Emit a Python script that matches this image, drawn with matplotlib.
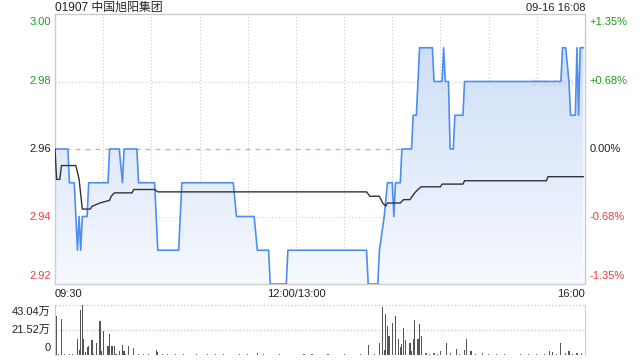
import numpy as np
import matplotlib
matplotlib.use("Agg")
import matplotlib.pyplot as plt
from matplotlib.patches import Polygon
from matplotlib.colors import LinearSegmentedColormap

plt.rcParams['font.family'] = ['Liberation Sans', 'Noto Sans CJK SC', 'DejaVu Sans']

title = "01907 中国旭阳集团"
stamp = "09-16 16:08"
prev_close = 2.96

# price line, (minute since 09:30, price)
price_min = [0, 8, 9, 12, 14, 15, 16, 17, 20, 21, 33, 34, 40, 42, 43, 51, 52, 62, 64, 77,
             79, 111, 113, 124, 126, 133, 134, 144, 145, 194, 195, 201, 202, 205, 207, 210,
             211, 212, 215, 216, 222, 223, 225, 227, 235, 236, 241, 242, 243, 245, 246, 248,
             249, 254, 255, 315, 316, 318, 320, 321, 324, 325, 326, 327, 329]
price_val = [2.96, 2.96, 2.95, 2.95, 2.93, 2.94, 2.93, 2.94, 2.94, 2.95, 2.95, 2.96, 2.96,
             2.95, 2.96, 2.96, 2.95, 2.95, 2.93, 2.93, 2.95, 2.95, 2.94, 2.94, 2.93, 2.93,
             2.92, 2.92, 2.93, 2.93, 2.92, 2.92, 2.93, 2.94, 2.95, 2.95, 2.94, 2.95, 2.95,
             2.96, 2.96, 2.97, 2.97, 2.99, 2.99, 2.98, 2.98, 2.99, 2.98, 2.98, 2.96, 2.96,
             2.97, 2.97, 2.98, 2.98, 2.99, 2.99, 2.98, 2.97, 2.97, 2.99, 2.97, 2.99, 2.99]

# average price line
avg_min = [0, 1, 3, 4, 13, 15, 17, 22, 23, 28, 34, 35, 37, 48, 49, 62, 64, 194, 196, 202,
           204, 206, 207, 215, 217, 221, 224, 226, 228, 240, 241, 254, 255, 306, 307, 329]
avg_val = [2.96, 2.951, 2.951, 2.9551, 2.9551, 2.951, 2.9422, 2.9422, 2.943, 2.944, 2.9448,
           2.946, 2.947, 2.947, 2.948, 2.948, 2.9473, 2.9473, 2.946, 2.946, 2.944, 2.9431,
           2.944, 2.944, 2.945, 2.945, 2.947, 2.948, 2.9488, 2.9488, 2.9496, 2.9496, 2.9506,
           2.9506, 2.9518, 2.9518]

# volume (万 shares)
vol_min = [1, 4, 14, 15, 16, 17, 18, 19, 20, 21, 23, 26, 28, 29, 30, 33, 34, 35, 36, 37,
           40, 42, 43, 46, 49, 63, 64, 126, 195, 202, 204, 205, 206, 207, 208, 210, 212, 214,
           215, 216, 217, 218, 221, 222, 223, 224, 226, 227, 228, 240, 244, 250, 255, 256,
           259, 308, 310, 315, 320]
vol_val = [33.7, 30.8, 13.4, 4.7, 38.7, 43.0, 13.4, 2.3, 6.7, 7.6, 12.5, 10.2, 29.0, 3.8,
           20.6, 8.1, 17.7, 8.1, 8.1, 8.1, 3.2, 9.0, 3.8, 8.1, 6.4, 4.7, 2.9, 2.0, 9.0, 10.2,
           41.6, 4.7, 35.2, 24.7, 16.0, 27.6, 33.4, 14.0, 7.3, 9.6, 23.5, 12.5, 10.2, 3.8,
           14.0, 30.0, 14.0, 26.5, 16.0, 3.8, 10.2, 5.2, 4.7, 13.4, 3.8, 3.2, 2.9, 10.2, 3.8]
small_min = [2, 6, 9, 11, 24, 38, 44, 52, 55, 58, 67, 70, 75, 80, 88, 95, 100, 105, 115,
             120, 130, 140, 155, 160, 170, 180, 190, 199, 231, 233, 236, 238, 246, 252, 262,
             266, 270, 275, 280, 290, 295, 300, 305, 312, 318, 322, 325, 328]
small_val = [0.6, 0.8, 1.0, 0.5, 0.7, 0.6, 0.8, 0.5, 0.6, 0.5, 0.7, 0.5, 0.6, 0.5, 0.6,
             0.5, 0.7, 0.6, 0.5, 0.6, 0.5, 0.6, 0.7, 0.5, 0.6, 0.5, 0.6, 0.8, 1.5, 1.2, 1.7,
             1.0, 1.5, 1.2, 1.0, 1.7, 0.8, 1.0, 0.7, 0.8, 0.9, 1.0, 0.8, 1.2, 1.5, 1.0, 1.3,
             1.5]

left_ticks = [3.00, 2.98, 2.96, 2.94, 2.92]
left_labels = ["3.00", "2.98", "2.96", "2.94", "2.92"]
right_labels = ["+1.35%", "+0.68%", "0.00%", "-0.68%", "-1.35%"]
tick_colors = ["#1a9e1a", "#1a9e1a", "#222222", "#f03c3c", "#f03c3c"]
x_labels = ["09:30", "12:00/13:00", "16:00"]
x_label_pos = [0, 150, 330]
vol_ticks = [43.04, 21.52, 0]
vol_labels = ["43.04万", "21.52万", "0"]

W, H = 640, 360
fig = plt.figure(figsize=(6.4, 3.6), dpi=100)
ax = fig.add_axes([55 / W, 76 / H, 530 / W, 270 / H])
ax.set_xlim(0, 330)
ax.set_ylim(2.92, 3.00)
ax.set_xticks([])
ax.set_yticks([])
for s in ax.spines.values():
    s.set_color("#cccccc")
    s.set_linewidth(1)

for m in range(30, 330, 30):
    ax.axvline(m, color="#cccccc", lw=0.8, ls=(0, (1, 2)), zorder=1)
for p in [2.94, 2.98]:
    ax.axhline(p, color="#cccccc", lw=0.8, ls=(0, (1, 2)), zorder=1)
ax.axhline(prev_close, color="#f0a070", lw=0.9, ls=(0, (4, 4)), zorder=1)

# gradient fill under price
cmap = LinearSegmentedColormap.from_list("g", ["#f6f9ff", "#c9dbf7"])
grad = np.linspace(0, 1, 256).reshape(-1, 1)
im = ax.imshow(grad, cmap=cmap, extent=[0, 330, 2.92, 3.00], origin="lower",
               aspect="auto", zorder=2)
poly_pts = [(price_min[0], 2.92)] + list(zip(price_min, price_val)) + [(price_min[-1], 2.92)]
poly = Polygon(poly_pts, closed=True, facecolor="none", edgecolor="none")
ax.add_patch(poly)
im.set_clip_path(poly)

ax.plot(price_min, price_val, color="#4d8ef0", lw=1.2, zorder=4)
ax.plot(avg_min, avg_val, color="#333333", lw=1.0, zorder=5)

ax.text(574, 277, "sina.com", transform=None, fontsize=8, color="#d4d4d4",
        ha="right", va="center")

# axis labels
for p, lab, rl, c in zip(left_ticks, left_labels, right_labels, tick_colors):
    va = "top" if p == 3.00 else ("bottom" if p == 2.92 else "center")
    off = -0.0008 if p == 3.00 else (0.0008 if p == 2.92 else 0)
    ax.text(-0.008, p + off, lab, transform=ax.get_yaxis_transform(), ha="right",
            va=va, fontsize=8, color=c)
    ax.text(1.009, p + off, rl, transform=ax.get_yaxis_transform(), ha="left",
            va=va, fontsize=8, color=c)

fig.text(55 / W, 1 - 8 / H, title, fontsize=8.6, color="#222222", ha="left", va="center")
fig.text(585 / W, 1 - 8 / H, stamp, fontsize=8, color="#222222", ha="right", va="center")

for m, lab in zip(x_label_pos, x_labels):
    ha = "left" if m == 0 else ("right" if m == 330 else "center")
    ax.text(m, -0.02, lab, transform=ax.get_xaxis_transform(), ha=ha, va="top",
            fontsize=8, color="#222222")

# volume panel
vax = fig.add_axes([55 / W, 5 / H, 530 / W, 50 / H])
vax.set_xlim(0, 330)
vax.set_ylim(0, 43.04)
vax.set_xticks([])
vax.set_yticks([])
for k in ["top", "bottom"]:
    vax.spines[k].set_visible(False)
for k in ["left", "right"]:
    vax.spines[k].set_color("#cccccc")
vax.axhline(43.04, color="#cccccc", lw=1, ls=(0, (1, 1.5)), clip_on=False)
vax.axhline(21.52, color="#cccccc", lw=1, ls=(0, (1, 1.5)))
vax.bar(small_min, small_val, width=0.7, color="#666666", zorder=3)
vax.bar(vol_min, vol_val, width=0.7, color="#555555", zorder=3)
for v, lab in zip(vol_ticks, vol_labels):
    va = "top" if v == 43.04 else ("bottom" if v == 0 else "center")
    off = -1.5 if v == 43.04 else (1.5 if v == 0 else 0)
    vax.text(-0.008, v + off, lab, transform=vax.get_yaxis_transform(), ha="right",
             va=va, fontsize=8, color="#222222")

fig.savefig("out.png", dpi=100)
